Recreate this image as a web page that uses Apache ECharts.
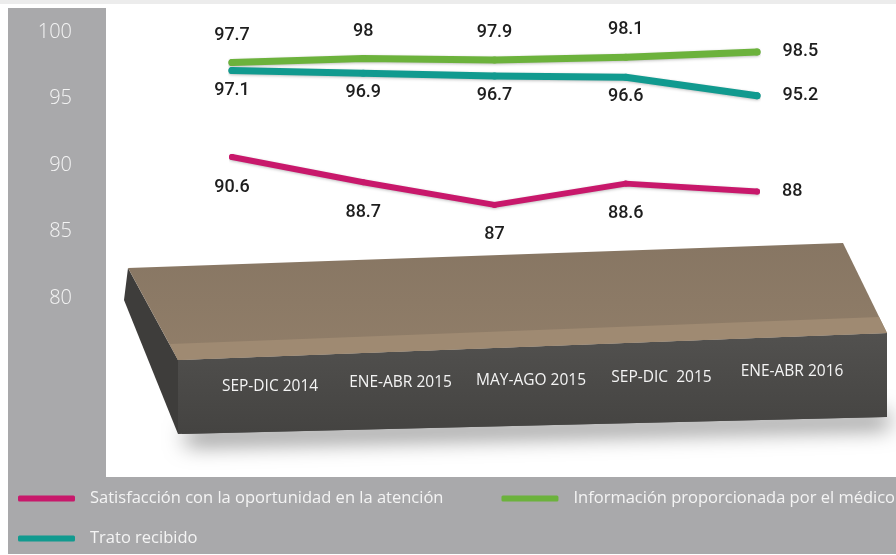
<!DOCTYPE html>
<html>
<head>
<meta charset="utf-8">
<script src="https://cdn.jsdelivr.net/npm/echarts@6/dist/echarts.min.js"></script>
<style>
  html, body { margin: 0; padding: 0; background: #ffffff; }
  #chart { width: 896px; height: 555px; }
</style>
</head>
<body>
<div id="chart"></div>
<script>
// Periods and survey results (%)
const periods = ['SEP-DIC 2014', 'ENE-ABR 2015', 'MAY-AGO 2015', 'SEP-DIC  2015', 'ENE-ABR 2016'];
const satisfaccion = [90.6, 88.7, 87, 88.6, 88];
const informacion = [97.7, 98, 97.9, 98.1, 98.5];
const trato = [97.1, 96.9, 96.7, 96.6, 95.2];
const seriesNames = [
  'Satisfacción con la oportunidad en la atención',
  'Información proporcionada por el médico',
  'Trato recibido'
];
const yTicks = { min: 80, max: 100, step: 5 };

const colors = { sat: '#c8186b', info: '#6cb23c', trato: '#119a8f' };
const labelFont = { fontFamily: 'Roboto', fontSize: 18, fontWeight: 500, color: '#1e1e1e' };

// last point of every line gets its value written to the right
function withLabels(values, pos, dist) {
  return values.map((v, i) => i === values.length - 1
    ? { value: v, label: { position: 'right', distance: 22 } }
    : { value: v, label: { position: pos, distance: dist } });
}

const chart = echarts.init(document.getElementById('chart'), null, { renderer: 'canvas' });

// small vertical nudges so the period names follow the slanted box face
const periodShift = [15, 11, 9, 6, 0];
const rich = {};
periodShift.forEach((p, i) => {
  rich['p' + i] = { color: '#f4f4f4', fontFamily: 'Open Sans', fontSize: 15.5, padding: [p, 0, 0, 0] };
});

const legendText = { color: '#f4f4f4', fontFamily: 'Open Sans', fontSize: 16.5, padding: [0, 0, 0, 10] };

const option = {
  backgroundColor: '#ffffff',
  animation: false,
  graphic: [
    // faint top edge
    { type: 'rect', shape: { x: 0, y: 0, width: 896, height: 4 }, style: { fill: '#ececec' }, z: -10 },
    // grey frame: value strip and legend band
    { type: 'rect', shape: { x: 8, y: 8, width: 98, height: 472 }, style: { fill: '#a9a9ab' }, z: -10 },
    { type: 'rect', shape: { x: 8, y: 477, width: 888, height: 77 }, style: { fill: '#a9a9ab' }, z: -10 },
    // box shadow
    { type: 'polygon', shape: { points: [[182, 420], [885, 404], [885, 417], [182, 434]] },
      style: { fill: '#555', shadowColor: 'rgba(0,0,0,0.55)', shadowBlur: 22, shadowOffsetY: 10, shadowOffsetX: 4 }, z: -6 },
    // left side face
    { type: 'polygon', shape: { points: [[128, 268], [178, 360], [178, 434], [124, 300]] },
      style: { fill: '#3e3d3b' }, z: -5 },
    // front face
    { type: 'polygon', shape: { points: [[178, 360], [887, 333], [887, 417], [178, 434]] },
      style: { fill: new echarts.graphic.LinearGradient(0, 0, 0, 1, [
        { offset: 0, color: '#52514f' }, { offset: 1, color: '#444341' }]) }, z: -5 },
    // top face
    { type: 'polygon', shape: { points: [[128, 268], [843, 243], [887, 333], [178, 360]] },
      style: { fill: new echarts.graphic.LinearGradient(0, 0, 0, 1, [
        { offset: 0, color: '#877663' }, { offset: 1, color: '#917e69' }]) }, z: -5 },
    // lighter front lip of the top face
    { type: 'polygon', shape: { points: [[170, 344], [879, 317], [887, 333], [178, 360]] },
      style: { fill: '#9f8a72' }, z: -4 }
  ],
  legend: [
    {
      data: [seriesNames[0], seriesNames[1]],
      left: 18, top: 490, padding: 0,
      itemWidth: 57, itemHeight: 6, itemGap: 58,
      icon: 'roundRect',
      textStyle: legendText
    },
    {
      data: [seriesNames[2]],
      left: 18, top: 530, padding: 0,
      itemWidth: 57, itemHeight: 6,
      icon: 'roundRect',
      textStyle: legendText
    }
  ],
  grid: [
    { left: 232, right: 139, top: 32, bottom: 257 },
    { left: 270, right: 104, top: 300, height: 62 }
  ],
  xAxis: [
    { type: 'category', gridIndex: 0, data: periods, boundaryGap: false,
      axisLine: { show: false }, axisTick: { show: false }, axisLabel: { show: false } },
    { type: 'category', gridIndex: 1, data: periods, boundaryGap: false,
      axisLine: { show: false }, axisTick: { show: false },
      axisLabel: { margin: 2, interval: 0, formatter: (v, i) => '{p' + i + '|' + v + '}', rich } }
  ],
  yAxis: [
    { type: 'value', gridIndex: 0, min: yTicks.min, max: yTicks.max, interval: yTicks.step,
      splitLine: { show: false }, axisLine: { show: false }, axisTick: { show: false },
      axisLabel: { margin: 160, color: '#f4f4f4', fontFamily: 'Open Sans', fontWeight: 300, fontSize: 20 } },
    { type: 'value', gridIndex: 1, show: false }
  ],
  series: [
    {
      name: seriesNames[0], type: 'line', data: withLabels(satisfaccion, 'bottom', 18),
      color: colors.sat, symbol: 'circle', symbolSize: 6,
      lineStyle: { width: 6, cap: 'round', join: 'round', shadowColor: 'rgba(0,0,0,0.25)', shadowBlur: 3, shadowOffsetY: 1 },
      label: { show: true, ...labelFont }
    },
    {
      name: seriesNames[1], type: 'line', data: withLabels(informacion, 'top', 15),
      color: colors.info, symbol: 'circle', symbolSize: 7,
      lineStyle: { width: 7, cap: 'round', join: 'round', shadowColor: 'rgba(0,0,0,0.25)', shadowBlur: 3, shadowOffsetY: 1 },
      label: { show: true, ...labelFont }
    },
    {
      name: seriesNames[2], type: 'line', data: withLabels(trato, 'bottom', 7),
      color: colors.trato, symbol: 'circle', symbolSize: 7,
      lineStyle: { width: 7, cap: 'round', join: 'round', shadowColor: 'rgba(0,0,0,0.25)', shadowBlur: 3, shadowOffsetY: 1 },
      label: { show: true, ...labelFont }
    }
  ]
};
chart.setOption(option);
</script>
</body>
</html>
